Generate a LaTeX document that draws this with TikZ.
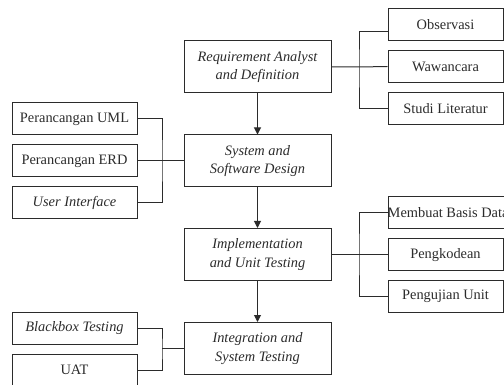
\documentclass[tikz,border=0pt]{standalone}
\usepackage{fontspec}
\setmainfont{Liberation Serif}
\usetikzlibrary{arrows.meta}
\definecolor{ink}{HTML}{2B2B2B}
\begin{document}
\begin{tikzpicture}[x=1pt,y=-1pt,
  box/.style={draw=ink,line width=1pt,inner sep=0pt,align=center,text=ink,
    font=\fontsize{14.4}{18.3}\selectfont},
  mainbox/.style={box,minimum width=147pt,minimum height=52pt,font=\fontsize{14.4}{18.3}\selectfont\itshape},
  sidebox/.style={box,minimum width=115pt,minimum height=32pt},
  leftbox/.style={box,minimum width=125pt,minimum height=32pt},
  link/.style={draw=ink,line width=1pt},
  flow/.style={link,-{Triangle[length=7pt,width=7pt]}}]
\useasboundingbox (0,0) rectangle (504,385);
% main column
\node[mainbox] (m1) at (257.5,67) {Requirement Analyst\\and Definition};
\node[mainbox] (m2) at (257.5,161) {System and\\Software Design};
\node[mainbox] (m3) at (257.5,254.5) {Implementation\\and Unit Testing};
\node[mainbox] (m4) at (257.5,348.5) {Integration and\\System Testing};
% right boxes
\node[sidebox] (obs) at (445.5,25) {Observasi};
\node[sidebox] (waw) at (445.5,66.5) {Wawancara};
\node[sidebox] (stu) at (445.5,108.5) {Studi Literatur};
\node[sidebox,minimum width=132pt] (mbd) at (454,212.5) {};
\node[anchor=west,inner sep=0pt,text=ink,font=\fontsize{14.4}{18.3}\selectfont] (mbdt) at (mbd.west) {Membuat Basis Data};
\node[sidebox] (pkd) at (445.5,255) {Pengkodean};
\node[sidebox] (puj) at (445.5,296.5) {Pengujian Unit};
% left boxes
\node[leftbox] (uml) at (74.5,119) {Perancangan UML};
\node[leftbox] (erd) at (74.5,161) {Perancangan ERD};
\node[leftbox,font=\fontsize{14.4}{18.3}\selectfont\itshape] (ui) at (74.5,202.5) {User Interface};
\node[leftbox,font=\fontsize{14.4}{18.3}\selectfont\itshape] (bb) at (74.5,328) {Blackbox Testing};
\node[leftbox] (uat) at (74.5,370) {UAT};
% junctions
\coordinate (ja) at (359,67);
\coordinate (jb) at (162,161);
\coordinate (jc) at (359,254.5);
\coordinate (jd) at (162,348.5);
% connectors
\draw[link] ([yshift=-7pt]obs.west) -| (ja) |- (stu.west);
\draw[link] (m1.east) -- (ja) -- (waw.west);
\draw[link] (uml.east) -| (jb) |- (ui.east);
\draw[link] (erd.east) -- (m2.west);
\draw[link] (mbd.west) -| (jc) |- (puj.west);
\draw[link] (m3.east) -- (m3.east -| pkd.west);
\draw[link] (bb.east) -| (jd) |- (uat.east);
\draw[link] (jd) -- (m4.west);
% flow arrows
\draw[flow] (m1.south) -- (m2.north);
\draw[flow] (m2.south) -- (m3.north);
\draw[flow] (m3.south) -- (m4.north);
\end{tikzpicture}
\end{document}
